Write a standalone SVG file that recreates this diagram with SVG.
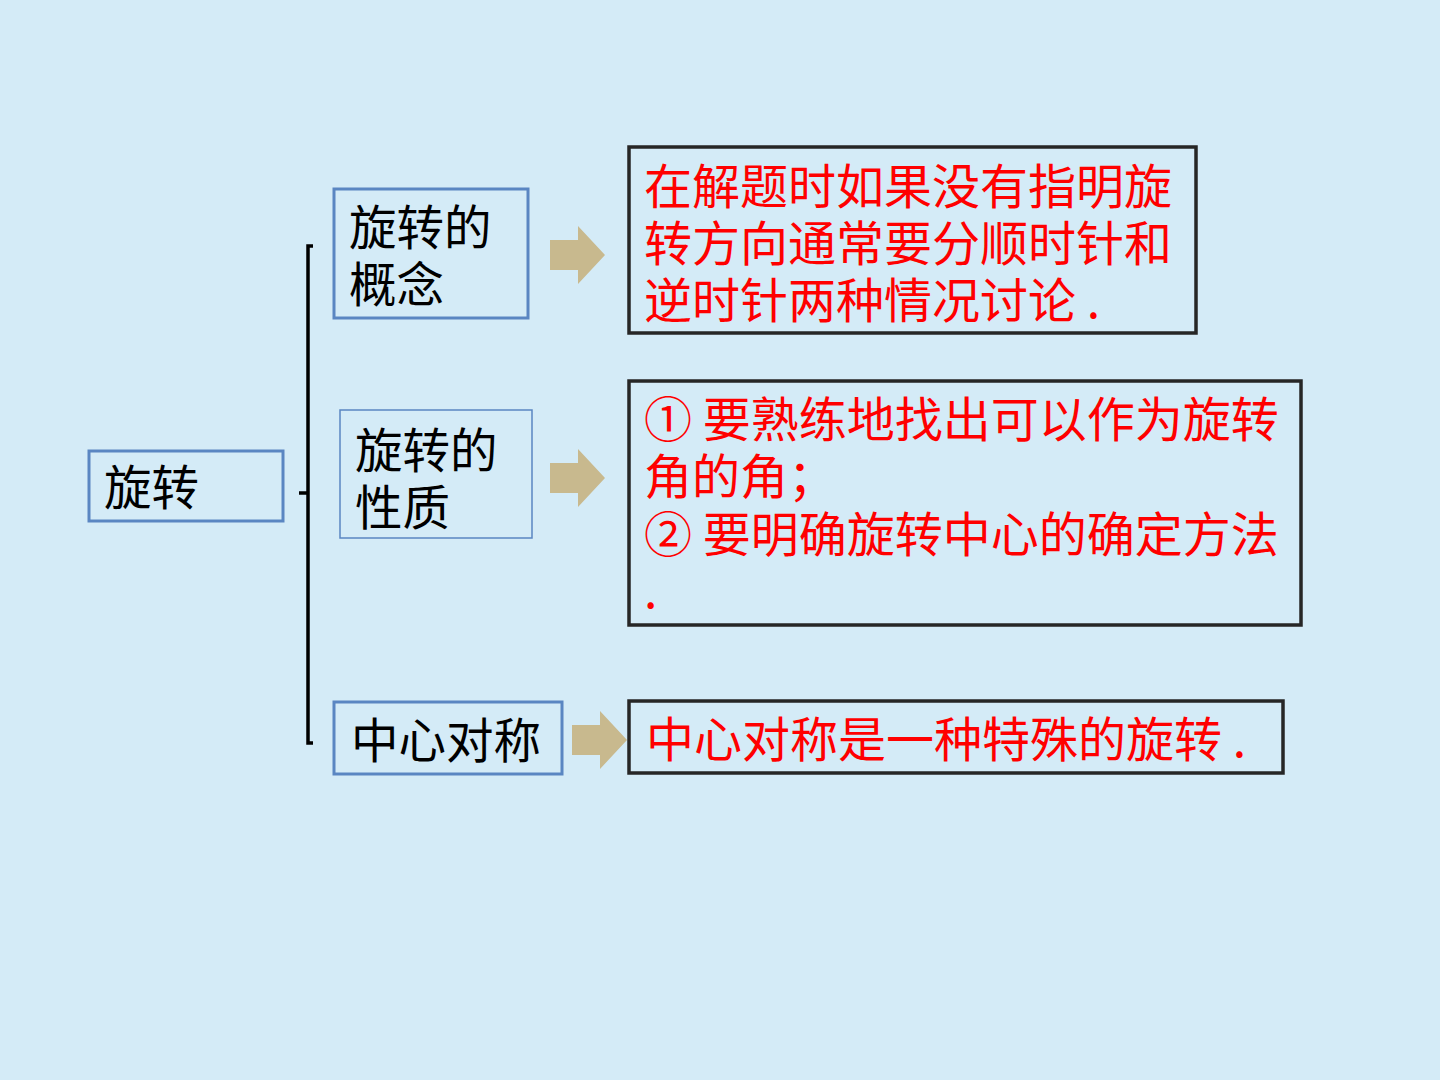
<svg xmlns="http://www.w3.org/2000/svg" width="1440" height="1080" viewBox="0 0 1440 1080">
<style>
.bg{fill:#d4ebf7}
.blue{fill:none;stroke:#5a86c2;stroke-width:3}
.blue-thin{fill:none;stroke:#5a86c2;stroke-width:1.5}
.blk{fill:none;stroke:#262626;stroke-width:3.5}
.t{font-family:"Noto Sans CJK SC","Noto Sans",sans-serif;font-size:47.5px;fill:#000}
.r{font-family:"Noto Sans CJK SC","Noto Sans",sans-serif;font-size:48px;fill:#ff0000}
.arrow{fill:#c8b98e}
.line{fill:none;stroke:#000;stroke-width:3.5}
</style>
<rect class="bg" x="0" y="0" width="1440" height="1080"/>
<g id="connectors">
<path class="line" d="M313,246 H308 V743 H313"/>
<path class="line" d="M299,493 H308"/>
<path class="arrow" d="M550,240 H578 V226 L605,255 L578,284 V270 H550 Z"/>
<path class="arrow" d="M550,463 H578 V449 L605,478 L578,507 V493 H550 Z"/>
<path class="arrow" d="M572,725 H600 V711 L627,740 L600,769 V755 H572 Z"/>
</g>
<g id="node-root">
<rect class="blue" x="89" y="451" width="194" height="70"/>
<text class="t" x="104" y="505">旋转</text>
</g>
<g id="node-concept">
<rect class="blue" x="334" y="189" width="194" height="129"/>
<text class="t" x="349" y="245">旋转的</text>
<text class="t" x="349" y="302">概念</text>
</g>
<g id="node-property">
<rect class="blue-thin" x="340" y="410" width="192" height="128"/>
<text class="t" x="355" y="468">旋转的</text>
<text class="t" x="355" y="525">性质</text>
</g>
<g id="node-central">
<rect class="blue" x="334" y="702" width="228" height="72"/>
<text class="t" x="351" y="758">中心对称</text>
</g>
<g id="node-concept-desc">
<rect class="blk" x="629" y="147" width="567" height="186"/>
<text class="r" x="644" y="204">在解题时如果没有指明旋</text>
<text class="r" x="644" y="261">转方向通常要分顺时针和</text>
<text class="r" x="644" y="318">逆时针两种情况讨论 .</text>
</g>
<g id="node-property-desc">
<rect class="blk" x="629" y="381" width="672" height="244"/>
<text class="r" x="644" y="437">① 要熟练地找出可以作为旋转</text>
<text class="r" x="644" y="494">角的角；</text>
<text class="r" x="644" y="552">② 要明确旋转中心的确定方法</text>
<text class="r" x="644" y="608">.</text>
</g>
<g id="node-central-desc">
<rect class="blk" x="629" y="701" width="654" height="72"/>
<text class="r" x="646" y="757">中心对称是一种特殊的旋转 .</text>
</g>
</svg>
